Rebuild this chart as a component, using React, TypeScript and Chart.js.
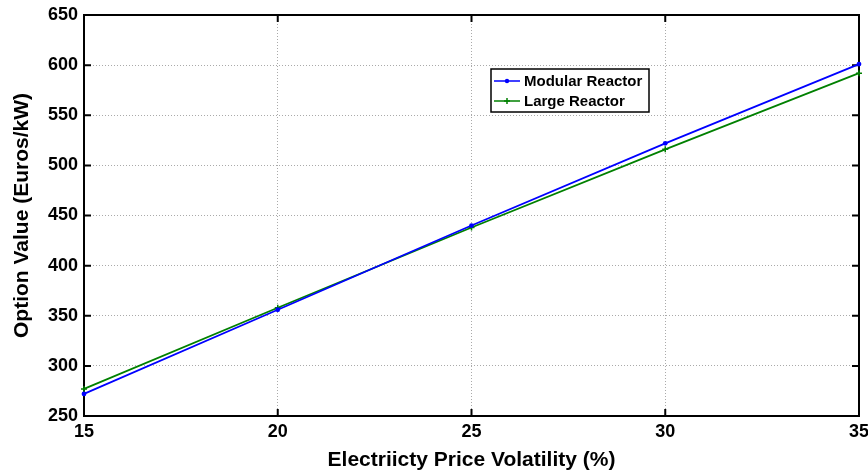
import React, { useEffect, useRef } from "react";
import { Chart, registerables } from "chart.js";

Chart.register(...registerables);

const volatility = [15, 20, 25, 30, 35];
const modularReactor = [272, 356, 440, 522, 601];
const largeReactor = [277, 358, 438, 516, 592];
const xTickValues = [15, 20, 25, 30, 35];
const yTickValues = [250, 300, 350, 400, 450, 500, 550, 600, 650];
const seriesNames = ["Modular Reactor", "Large Reactor"];
const xTitle = "Electriicty Price Volatility (%)";
const yTitle = "Option Value (Euros/kW)";

const FONT = "'Liberation Sans', Arial, Helvetica, sans-serif";
const BLUE = "#0000ff";
const GREEN = "#008000";

const framePlugin = {
  id: "frame",
  beforeDatasetsDraw(chart: any) {
    const { ctx, chartArea } = chart;
    const { left, right, top, bottom } = chartArea;
    const xs = chart.scales.x;
    const ys = chart.scales.y;
    const tl = 7;
    ctx.save();
    ctx.strokeStyle = "#000";
    ctx.lineWidth = 2;
    ctx.beginPath();
    yTickValues.forEach((v) => {
      const y = ys.getPixelForValue(v);
      ctx.moveTo(left, y);
      ctx.lineTo(left + tl, y);
      ctx.moveTo(right, y);
      ctx.lineTo(right - tl, y);
    });
    xTickValues.forEach((v) => {
      const x = xs.getPixelForValue(v);
      ctx.moveTo(x, bottom);
      ctx.lineTo(x, bottom - tl);
      ctx.moveTo(x, top);
      ctx.lineTo(x, top + tl);
    });
    ctx.stroke();
    ctx.lineWidth = 2;
    ctx.strokeRect(left, top, right - left, bottom - top);
    ctx.restore();
  },
};

const legendPlugin = {
  id: "customLegend",
  afterDraw(chart: any) {
    const { ctx } = chart;
    const bx = 491, by = 69, bw = 158, bh = 43;
    ctx.save();
    ctx.fillStyle = "#fff";
    ctx.fillRect(bx, by, bw, bh);
    ctx.strokeStyle = "#000";
    ctx.lineWidth = 1.5;
    ctx.strokeRect(bx, by, bw, bh);
    const rows = [
      { name: seriesNames[0], color: BLUE, y: by + 12, marker: "dot" },
      { name: seriesNames[1], color: GREEN, y: by + 32, marker: "plus" },
    ];
    rows.forEach((r) => {
      ctx.strokeStyle = r.color;
      ctx.lineWidth = 1.5;
      ctx.beginPath();
      ctx.moveTo(bx + 3, r.y);
      ctx.lineTo(bx + 29, r.y);
      ctx.stroke();
      const mx = bx + 16;
      if (r.marker === "dot") {
        ctx.fillStyle = r.color;
        ctx.beginPath();
        ctx.arc(mx, r.y, 2.2, 0, Math.PI * 2);
        ctx.fill();
      } else {
        ctx.beginPath();
        ctx.moveTo(mx - 3, r.y);
        ctx.lineTo(mx + 3, r.y);
        ctx.moveTo(mx, r.y - 3);
        ctx.lineTo(mx, r.y + 3);
        ctx.stroke();
      }
      ctx.fillStyle = "#000";
      ctx.font = `bold 15px ${FONT}`;
      ctx.textBaseline = "middle";
      ctx.textAlign = "left";
      ctx.fillText(r.name, bx + 33, r.y + 1);
    });
    ctx.restore();
  },
};

export default function App() {
  const ref = useRef<HTMLCanvasElement | null>(null);
  useEffect(() => {
    if (!ref.current) return;
    const chart = new Chart(ref.current, {
      type: "line",
      data: {
        datasets: [
          {
            label: seriesNames[0],
            data: volatility.map((x, i) => ({ x, y: modularReactor[i] })),
            borderColor: BLUE,
            backgroundColor: BLUE,
            borderWidth: 1.8,
            pointStyle: "circle",
            pointRadius: 2.4,
            pointBorderWidth: 0,
            tension: 0,
            clip: false as any,
          },
          {
            label: seriesNames[1],
            data: volatility.map((x, i) => ({ x, y: largeReactor[i] })),
            borderColor: GREEN,
            backgroundColor: GREEN,
            borderWidth: 1.8,
            pointStyle: "cross",
            pointRadius: 3,
            pointBorderWidth: 1.5,
            tension: 0,
            clip: false as any,
          },
        ],
      },
      options: {
        animation: false,
        responsive: false,
        layout: { padding: { top: 15, right: 9, left: 0, bottom: 0 } },
        plugins: { legend: { display: false }, tooltip: { enabled: false } },
        scales: {
          x: {
            type: "linear",
            min: 15,
            max: 35,
            afterBuildTicks: (s: any) => {
              s.ticks = xTickValues.map((v) => ({ value: v }));
            },
            afterFit: (s: any) => {
              s.height = 58;
              s.paddingLeft = 0;
              s.paddingRight = 0;
            },
            ticks: {
              color: "#000",
              font: { family: FONT, size: 18, weight: "bold" },
              padding: 5,
              maxRotation: 0,
              autoSkip: false,
            },
            grid: { color: "#aaaaaa", lineWidth: 1, drawTicks: false, tickLength: 0 },
            border: { display: false, dash: [1, 2] },
            title: {
              display: true,
              text: xTitle,
              color: "#000",
              font: { family: FONT, size: 21, weight: "bold" },
              padding: { top: 0, bottom: 1 },
            },
          },
          y: {
            type: "linear",
            min: 250,
            max: 650,
            afterBuildTicks: (s: any) => {
              s.ticks = yTickValues.map((v) => ({ value: v }));
            },
            afterFit: (s: any) => {
              s.width = 84;
              s.paddingTop = 0;
              s.paddingBottom = 0;
            },
            ticks: {
              color: "#000",
              font: { family: FONT, size: 18, weight: "bold" },
              padding: 6,
              autoSkip: false,
            },
            grid: { color: "#aaaaaa", lineWidth: 1, drawTicks: false, tickLength: 0 },
            border: { display: false, dash: [1, 2] },
            title: {
              display: true,
              text: yTitle,
              color: "#000",
              font: { family: FONT, size: 21, weight: "bold" },
              padding: { top: 10, bottom: 0 },
            },
          },
        },
      },
      plugins: [framePlugin, legendPlugin],
    });
    return () => chart.destroy();
  }, []);
  return (
    <div style={{ position: "absolute", left: 0, top: 0, width: 868, height: 474, background: "#fff" }}>
      <canvas ref={ref} width={868} height={474} style={{ display: "block" }} />
    </div>
  );
}
